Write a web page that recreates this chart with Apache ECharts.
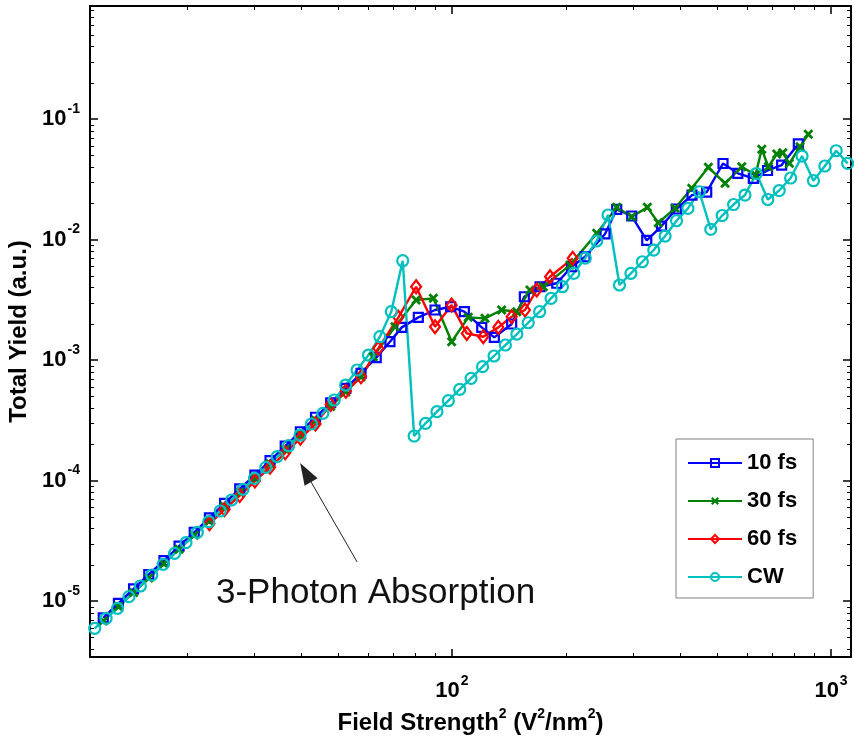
<!DOCTYPE html>
<html>
<head>
<meta charset="utf-8">
<title>Total Yield vs Field Strength</title>
<script src="https://cdn.jsdelivr.net/npm/echarts@6/dist/echarts.min.js"></script>
<style>
  html, body { margin: 0; padding: 0; background: #fff; }
  #chart { width: 854px; height: 737px; }
</style>
</head>
<body>
<div id="chart"></div>
<script>
// axis extents (log axes)
const xRange = [11.09, 1129]
const yRange = [3.43e-6, 0.867]

// 10 fs
const x10 = [12.02, 13.18, 14.45, 15.85, 17.38, 19.05, 20.89, 22.91, 25.12, 27.54, 30.20, 33.11, 36.31, 39.81, 43.65, 47.86, 52.48, 57.54, 63.10,
  68.6, 73.7, 81.5, 90.2, 99.2, 107.8, 119.8, 129.3, 143.7, 155.2, 170.7, 188.9, 206.9, 224.4,
  253.3, 272.0, 298.0, 326.4, 357.2, 390.7, 429.8, 469.9, 518.8, 567.6, 623.7, 680.0, 740.9, 819.9]
const y10 = [7.24e-6, 9.55e-6, 1.26e-5, 1.66e-5, 2.16e-5, 2.85e-5, 3.72e-5, 4.90e-5, 6.46e-5, 8.51e-5, 1.11e-4, 1.46e-4, 1.93e-4, 2.54e-4, 3.35e-4, 4.42e-4, 5.82e-4, 7.76e-4, 1.047e-3,
  1.419e-3, 1.866e-3, 2.259e-3, 2.600e-3, 2.767e-3, 2.518e-3, 1.866e-3, 1.542e-3, 1.991e-3, 3.350e-3, 4.055e-3, 4.335e-3, 5.943e-3, 7.194e-3,
  1.112e-2, 1.782e-2, 1.567e-2, 9.82e-3, 1.294e-2, 1.791e-2, 2.339e-2, 2.477e-2, 4.276e-2, 3.540e-2, 3.221e-2, 3.741e-2, 4.150e-2, 6.209e-2]

// 30 fs
const x30 = [12.02, 13.18, 14.45, 15.85, 17.38, 19.05, 20.89, 22.91, 25.12, 27.54, 30.20, 33.11, 36.31, 39.81, 43.65, 47.86, 52.48, 57.54,
  62.0, 70.7, 80.4, 89.3, 99.8, 110.4, 122.2, 135.2, 148.2, 160.6, 174.1, 204.8, 240.9,
  272.0, 298.0, 327.6, 350.2, 387.6, 429.1, 474.7, 525.3, 581.4, 632.0, 656.5, 683.4, 719.2, 745.9, 776.2, 828.4, 871.0]
const y30 = [6.84e-6, 9.02e-6, 1.175e-5, 1.549e-5, 2.04e-5, 2.69e-5, 3.51e-5, 4.62e-5, 6.10e-5, 7.94e-5, 1.047e-4, 1.380e-4, 1.820e-4, 2.40e-4, 3.16e-4, 4.12e-4, 5.43e-4, 7.24e-4,
  1.064e-3, 1.888e-3, 3.148e-3, 3.251e-3, 1.419e-3, 2.259e-3, 2.218e-3, 2.600e-3, 2.518e-3, 3.811e-3, 4.055e-3, 6.138e-3, 1.125e-2,
  1.849e-2, 1.545e-2, 1.849e-2, 1.377e-2, 1.816e-2, 2.661e-2, 3.972e-2, 2.924e-2, 4.018e-2, 3.428e-2, 5.610e-2, 4.018e-2, 5.129e-2, 5.248e-2, 4.285e-2, 5.888e-2, 7.464e-2]

// 60 fs
const x60 = [22.91, 25.12, 27.54, 30.20, 33.11, 36.31, 39.81, 43.65, 47.86, 52.48, 57.54,
  63.9, 72.2, 80.4, 90.2, 99.8, 109.4, 120.9, 132.5, 143.7, 155.8, 167.3, 181.4, 208.2]
const y60 = [4.37e-5, 5.75e-5, 7.50e-5, 9.89e-5, 1.288e-4, 1.698e-4, 2.239e-4, 2.951e-4, 4.27e-4, 5.50e-4, 7.26e-4,
  1.250e-3, 2.259e-3, 4.055e-3, 1.888e-3, 2.858e-3, 1.663e-3, 1.560e-3, 1.866e-3, 2.286e-3, 2.600e-3, 3.811e-3, 4.909e-3, 6.982e-3]

// CW
const xCW = [11.41, 12.23, 13.11, 14.05, 15.06, 16.14, 17.30, 18.54, 19.87, 21.29, 22.82, 24.46, 26.21, 28.09, 30.11, 32.27, 34.58,
  37.07, 39.72, 42.57, 45.63, 48.90, 52.41, 56.17, 60.20, 64.51, 69.14, 74.13, 79.45, 85.15, 91.26, 97.81, 104.8, 112.3,
  120.4, 129.1, 138.3, 148.3, 158.9, 170.3, 182.5, 195.6, 209.6, 224.7, 240.8, 258.1, 276.6, 296.5, 317.8, 340.6, 365.0,
  391.2, 419.3, 449.4, 481.6, 516.2, 553.3, 592.9, 635.5, 681.1, 730.0, 782.4, 838.5, 898.7, 963.2, 1032, 1106]
const yCW = [5.93e-6, 7.18e-6, 8.70e-6, 1.086e-5, 1.332e-5, 1.643e-5, 2.016e-5, 2.488e-5, 3.047e-5, 3.716e-5,
  4.550e-5, 5.582e-5, 6.889e-5, 8.45e-5, 1.043e-4, 1.287e-4, 1.576e-4, 1.944e-4, 2.385e-4, 2.943e-4,
  3.612e-4, 4.656e-4, 6.20e-4, 8.26e-4, 1.100e-3, 1.561e-3, 2.517e-3, 6.67e-3, 2.34e-4, 2.983e-4,
  3.724e-4, 4.594e-4, 5.713e-4, 7.050e-4, 8.80e-4, 1.080e-3, 1.332e-3, 1.643e-3, 2.039e-3, 2.517e-3,
  3.251e-3, 4.058e-3, 5.242e-3, 7.02e-3, 9.72e-3, 1.597e-2, 4.193e-3, 5.242e-3, 6.54e-3, 8.18e-3,
  1.069e-2, 1.432e-2, 1.815e-2, 2.492e-2, 1.215e-2, 1.582e-2, 1.952e-2, 2.340e-2, 3.529e-2, 2.148e-2,
  2.550e-2, 3.239e-2, 4.93e-2, 3.076e-2, 4.074e-2, 5.456e-2, 4.289e-2]

// annotation arrow, in data coordinates (tail -> head)
const arrowTail = [56.2, 2.107e-5]
const arrowHead = [41.1, 1.165e-4]

const FONT = '"Liberation Sans", Arial, Helvetica, sans-serif'

function pairs (xs, ys) {
  return xs.map((x, i) => [x, ys[i]])
}

// 10^n labels, blank for the non-decade extent ends
function powLabel (v) {
  const e = Math.log10(v)
  const n = Math.round(e)
  if (Math.abs(e - n) > 1e-6) return ''
  return '10{sup|' + n + '}'
}

// 2..9 x 10^n positions between the axis ends
function minorTicks (lo, hi) {
  const out = []
  for (let e = Math.floor(Math.log10(lo)); e <= Math.ceil(Math.log10(hi)); e++) {
    for (let m = 2; m <= 9; m++) {
      const v = m * Math.pow(10, e)
      if (v > lo && v < hi) out.push(v)
    }
  }
  return out
}
const xMinor = minorTicks(xRange[0], xRange[1])
const yMinor = minorTicks(yRange[0], yRange[1])

function drawMinorTicks (params, api) {
  const cs = params.coordSys
  const l = cs.x
  const r = cs.x + cs.width
  const t = cs.y
  const b = cs.y + cs.height
  const len = 4
  const st = { stroke: '#000', lineWidth: 1 }
  const kids = []
  xMinor.forEach(v => {
    const px = Math.round(api.coord([v, yRange[0]])[0]) + 0.5
    kids.push({ type: 'line', shape: { x1: px, y1: b, x2: px, y2: b - len }, style: st })
    kids.push({ type: 'line', shape: { x1: px, y1: t, x2: px, y2: t + len }, style: st })
  })
  yMinor.forEach(v => {
    const py = Math.round(api.coord([xRange[0], v])[1]) + 0.5
    kids.push({ type: 'line', shape: { x1: l, y1: py, x2: l + len, y2: py }, style: st })
    kids.push({ type: 'line', shape: { x1: r, y1: py, x2: r - len, y2: py }, style: st })
  })
  return { type: 'group', children: kids }
}

const tickRich = {
  sup: { fontSize: 14, fontWeight: 'bold', fontFamily: FONT, color: '#000', padding: [0, 0, 20, 1] }
}
const axisLineStyle = { lineStyle: { color: '#000', width: 2 } }
const majorTick = { show: true, inside: true, length: 8, lineStyle: { color: '#000', width: 1.5 } }

function logAxis (pos, withLabels) {
  return {
    type: 'log',
    logBase: 10,
    position: pos,
    min: pos === 'bottom' || pos === 'top' ? xRange[0] : yRange[0],
    max: pos === 'bottom' || pos === 'top' ? xRange[1] : yRange[1],
    axisLine: Object.assign({ show: true, onZero: false }, axisLineStyle),
    axisTick: majorTick,
    splitLine: { show: false },
    minorTick: { show: false },
    axisLabel: withLabels
      ? { show: true, formatter: powLabel, fontSize: 22, fontWeight: 'bold', fontFamily: FONT, color: '#000',
          margin: pos === 'bottom' ? 17 : 10, rich: tickRich }
      : { show: false }
  }
}

const xBottom = logAxis('bottom', true)
xBottom.name = 'Field Strength{sup|2} (V{sup|2}/nm{sup|2})'
xBottom.nameLocation = 'middle'
xBottom.nameGap = 48
xBottom.nameTextStyle = {
  fontSize: 24, fontWeight: 'bold', fontFamily: FONT, color: '#000',
  rich: { sup: { fontSize: 14, fontWeight: 'bold', fontFamily: FONT, color: '#000', padding: [0, 0, 18, 0] } }
}

const yLeft = logAxis('left', true)
yLeft.name = 'Total Yield (a.u.)'
yLeft.nameLocation = 'middle'
yLeft.nameGap = 47
yLeft.nameTextStyle = { fontSize: 24, fontWeight: 'bold', fontFamily: FONT, color: '#000' }

function lineSeries (name, xs, ys, color, symbol, size) {
  return {
    name: name,
    type: 'line',
    data: pairs(xs, ys),
    symbol: symbol,
    symbolSize: size,
    showAllSymbol: true,
    lineStyle: { color: color, width: 2.4 },
    itemStyle: { color: 'rgba(255,255,255,0)', borderColor: color, borderWidth: 2.2 },
    emphasis: { disabled: true }
  }
}

const s10 = lineSeries('10 fs', x10, y10, '#0000ff', 'rect', 9)
const s30 = lineSeries('30 fs', x30, y30, '#008000', 'path://M0,2L2,0L5,3L8,0L10,2L7,5L10,8L8,10L5,7L2,10L0,8L3,5Z', 10)
s30.itemStyle = { color: '#008000', borderWidth: 0 }
const s60 = lineSeries('60 fs', x60, y60, '#ff0000', 'diamond', [10, 13])
const sCW = lineSeries('CW', xCW, yCW, '#00bfbf', 'circle', 11)
sCW.markLine = {
  silent: true,
  animation: false,
  label: { show: false },
  lineStyle: { type: 'solid', color: '#222', width: 1 },
  data: [[
    { coord: arrowTail, symbol: 'none' },
    { coord: arrowHead, symbol: 'path://M5,0L10,15L0,15Z', symbolSize: [15, 22] }
  ]]
}

const chart = echarts.init(document.getElementById('chart'), null, { renderer: 'canvas' })
const option = {
  animation: false,
  backgroundColor: '#fff',
  textStyle: { fontFamily: FONT },
  grid: { left: 90, top: 6, right: 3, bottom: 80, containLabel: false, outerBoundsMode: 'none' },
  xAxis: [xBottom, logAxis('top', false)],
  yAxis: [yLeft, logAxis('right', false)],
  legend: {
    data: ['10 fs', '30 fs', '60 fs', 'CW'],
    orient: 'vertical',
    left: 676,
    top: 439,
    padding: [11, 16, 8, 11],
    itemWidth: 54,
    itemHeight: 10,
    itemGap: 12,
    borderColor: '#808080',
    borderWidth: 1,
    backgroundColor: '#fff',
    selectedMode: false,
    textStyle: { fontSize: 22, fontWeight: 'bold', fontFamily: FONT, color: '#000', lineHeight: 26 }
  },
  graphic: [{
    type: 'text',
    x: 216,
    y: 593,
    style: { text: '3-Photon Absorption', font: '35px ' + FONT, fill: '#111', verticalAlign: 'middle' }
  }],
  series: [
    s10, s30, s60, sCW,
    {
      type: 'custom',
      name: 'minor ticks',
      coordinateSystem: 'cartesian2d',
      silent: true,
      clip: false,
      z: 5,
      data: [[xRange[0], yRange[0]]],
      renderItem: drawMinorTicks
    }
  ]
}
chart.setOption(option)
</script>
</body>
</html>
